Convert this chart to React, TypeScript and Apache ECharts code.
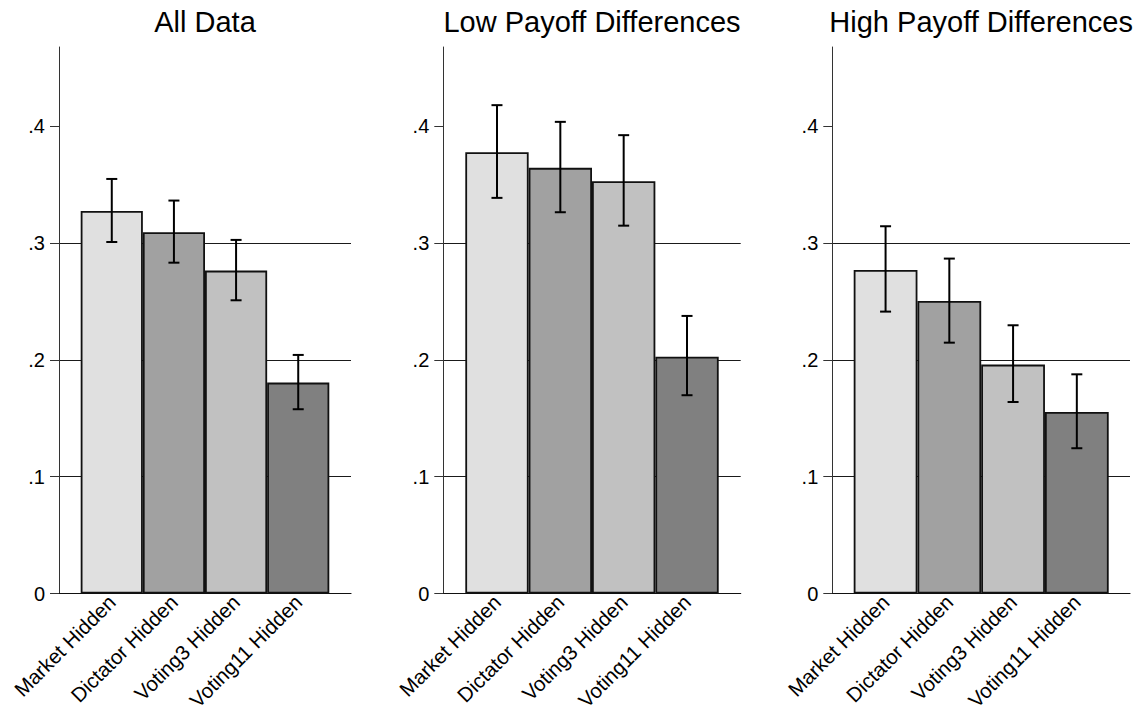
import React, { useEffect, useRef } from "react";
import * as echarts from "echarts";

const categories = ["Market Hidden", "Dictator Hidden", "Voting3 Hidden", "Voting11 Hidden"];
const panelTitles = ["All Data", "Low Payoff Differences", "High Payoff Differences"];

const allMeans = [0.3276, 0.3094, 0.2765, 0.1806];
const allLow = [0.301, 0.2833, 0.2511, 0.1578];
const allHigh = [0.355, 0.3365, 0.3028, 0.2043];

const lowMeans = [0.3779, 0.3645, 0.3531, 0.2028];
const lowLow = [0.3388, 0.3265, 0.315, 0.1698];
const lowHigh = [0.4182, 0.4039, 0.3925, 0.2377];

const highMeans = [0.2771, 0.2505, 0.196, 0.1555];
const highLow = [0.2414, 0.2148, 0.164, 0.1244];
const highHigh = [0.3145, 0.2868, 0.2297, 0.1877];

const yTicks = [0, 0.1, 0.2, 0.3, 0.4];
const yMax = 0.468;
const barColors = ["#e0e0e0", "#a1a1a1", "#c1c1c1", "#808080"];

const panelData = [
  { means: allMeans, low: allLow, high: allHigh },
  { means: lowMeans, low: lowLow, high: lowHigh },
  { means: highMeans, low: highLow, high: highHigh },
];

// layout (pixels)
const TOP = 47;
const HEIGHT = 546.5;
const axesBoxes = [
  { left: 59, width: 292 },
  { left: 443.3, width: 297.4 },
  { left: 832.3, width: 297.7 },
];
const barBoxes = [
  { left: 80.7, width: 248.6 },
  { left: 465.3, width: 253.4 },
  { left: 853.7, width: 255 },
];

const FONT = '"Liberation Sans", Arial, Helvetica, sans-serif';

function fmtTick(v: number) {
  if (Math.abs(v) < 1e-9) return "0";
  return "." + Math.round(v * 10);
}

export default function App() {
  const ref = useRef<HTMLDivElement>(null);
  useEffect(() => {
    if (!ref.current) return;
    const chart = echarts.init(ref.current, null, { renderer: "svg" });
    const grid: any[] = [];
    const xAxis: any[] = [];
    const yAxis: any[] = [];
    const series: any[] = [];
    const graphic: any[] = [];

    panelData.forEach((p, i) => {
      const a = axesBoxes[i];
      const b = barBoxes[i];
      // axes grid
      grid.push({
        left: a.left,
        top: TOP,
        width: a.width,
        height: HEIGHT,
        containLabel: false,
        outerBoundsMode: "none",
      });
      xAxis.push({
        gridIndex: 2 * i,
        type: "value",
        min: 0,
        max: 1,
        axisLine: { show: true, onZero: false, lineStyle: { color: "#111", width: 1.2 } },
        axisTick: { show: false },
        axisLabel: { show: false },
        splitLine: { show: false },
      });
      yAxis.push({
        gridIndex: 2 * i,
        type: "value",
        min: 0,
        max: yMax,
        interval: 0.1,
        axisLine: { show: true, lineStyle: { color: "#333", width: 1 } },
        axisTick: {
          show: true,
          length: 9,
          customValues: yTicks,
          lineStyle: { color: "#333", width: 1 },
        },
        axisLabel: {
          show: true,
          customValues: yTicks,
          formatter: (v: number) => fmtTick(v),
          fontSize: 20,
          fontFamily: FONT,
          color: "#000",
          margin: 14,
        },
        splitLine: {
          show: true,
          showMinLine: false,
          showMaxLine: false,
          lineStyle: { color: "#1a1a1a", width: 1 },
        },
      });
      // bars grid
      grid.push({
        left: b.left,
        top: TOP,
        width: b.width,
        height: HEIGHT,
        containLabel: false,
        outerBoundsMode: "none",
      });
      xAxis.push({
        gridIndex: 2 * i + 1,
        type: "category",
        data: categories,
        axisLine: { show: false },
        axisTick: { show: false },
        axisLabel: {
          rotate: 45,
          fontSize: 20.5,
          fontFamily: FONT,
          color: "#000",
          margin: 5,
          interval: 0,
        },
        splitLine: { show: false },
      });
      yAxis.push({
        gridIndex: 2 * i + 1,
        type: "value",
        min: 0,
        max: yMax,
        show: false,
        splitLine: { show: false },
      });
      series.push({
        type: "bar",
        xAxisIndex: 2 * i + 1,
        yAxisIndex: 2 * i + 1,
        barCategoryGap: "0%",
        data: p.means.map((v, k) => ({
          value: v,
          itemStyle: { color: barColors[k], borderColor: "#111", borderWidth: 1.8 },
        })),
        z: 3,
      });
      series.push({
        type: "custom",
        xAxisIndex: 2 * i + 1,
        yAxisIndex: 2 * i + 1,
        z: 5,
        data: p.low.map((lo, k) => [k, lo, p.high[k]]),
        renderItem: (params: any, api: any) => {
          const lo = api.coord([api.value(0), api.value(1)]);
          const hi = api.coord([api.value(0), api.value(2)]);
          const x = lo[0];
          const cap = 5.5;
          const style = { stroke: "#000", lineWidth: 2 };
          return {
            type: "group",
            children: [
              { type: "line", shape: { x1: x, y1: lo[1], x2: x, y2: hi[1] }, style },
              { type: "line", shape: { x1: x - cap, y1: lo[1], x2: x + cap, y2: lo[1] }, style },
              { type: "line", shape: { x1: x - cap, y1: hi[1], x2: x + cap, y2: hi[1] }, style },
            ],
          };
        },
      });
      graphic.push({
        type: "text",
        x: a.left + a.width / 2,
        y: 22,
        style: {
          text: panelTitles[i],
          fontSize: 29,
          fontFamily: FONT,
          fill: "#000",
          align: "center",
          verticalAlign: "middle",
          textAlign: "center",
          textVerticalAlign: "middle",
        },
      });
    });

    chart.setOption({
      animation: false,
      backgroundColor: "#fff",
      grid,
      xAxis,
      yAxis,
      series,
      graphic,
    });
    return () => chart.dispose();
  }, []);
  return (
    <div
      ref={ref}
      style={{ position: "fixed", left: 0, top: 0, width: 1144, height: 711 }}
    />
  );
}
